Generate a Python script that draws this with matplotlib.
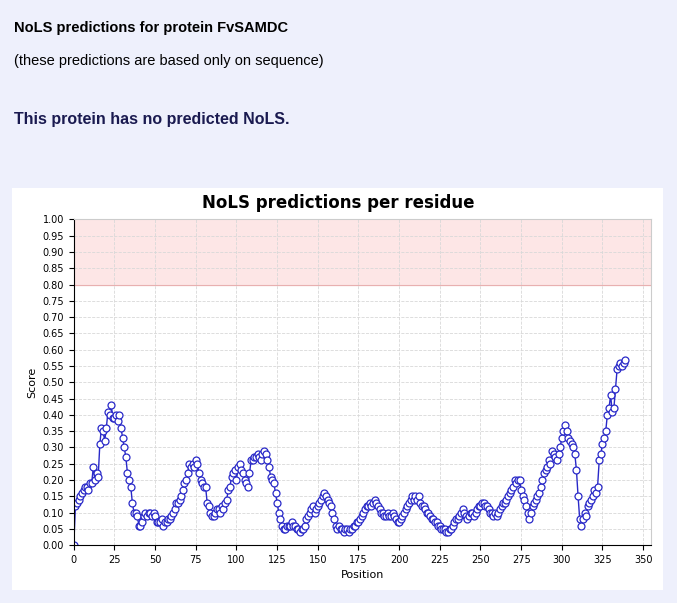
import matplotlib.pyplot as plt
from matplotlib.ticker import MultipleLocator

# score per residue
scores = [
    0.00, 0.12, 0.13, 0.14, 0.15, 0.16, 0.17, 0.18, 0.18, 0.17,
    0.19, 0.19, 0.24, 0.20, 0.22, 0.21, 0.31, 0.36, 0.35, 0.32,
    0.36, 0.41, 0.40, 0.43, 0.39, 0.39, 0.40, 0.38, 0.40, 0.36,
    0.33, 0.30, 0.27, 0.22, 0.20, 0.18, 0.13, 0.10, 0.10, 0.09,
    0.06, 0.06, 0.07, 0.09, 0.10, 0.09, 0.10, 0.10, 0.09, 0.10,
    0.09, 0.07, 0.07, 0.07, 0.08, 0.06, 0.07, 0.07, 0.08, 0.08,
    0.09, 0.10, 0.11, 0.13, 0.13, 0.14, 0.15, 0.17, 0.19, 0.20,
    0.22, 0.25, 0.24, 0.25, 0.24, 0.26, 0.25, 0.22, 0.20, 0.19,
    0.18, 0.18, 0.13, 0.12, 0.10, 0.09, 0.09, 0.10, 0.11, 0.11,
    0.10, 0.12, 0.11, 0.13, 0.14, 0.17, 0.18, 0.21, 0.22, 0.23,
    0.20, 0.24, 0.25, 0.23, 0.22, 0.20, 0.19, 0.18, 0.22, 0.26,
    0.26, 0.27, 0.27, 0.28, 0.27, 0.26, 0.28, 0.29,
    # 118-
    0.28, 0.26, 0.24, 0.21, 0.20, 0.19, 0.16, 0.13, 0.10, 0.08, 0.06, 0.05,
    0.05, 0.06, 0.06, 0.06, 0.07, 0.06, 0.06, 0.05, 0.05, 0.04, 0.05, 0.05,
    0.06, 0.08, 0.09, 0.10, 0.11, 0.12, 0.10, 0.11, 0.12, 0.13, 0.14, 0.15, 0.16,
    0.15, 0.14, 0.13, 0.12, 0.10, 0.08, 0.06,
    0.05, 0.06, 0.05, 0.05, 0.04, 0.05, 0.05, 0.04, 0.05, 0.05, 0.06,
    0.06, 0.07, 0.07, 0.08, 0.09, 0.10, 0.11, 0.12, 0.12, 0.13, 0.12, 0.13, 0.14,
    0.13, 0.12, 0.11, 0.10, 0.10, 0.09, 0.09, 0.10, 0.09, 0.09, 0.10, 0.09, 0.08, 0.07,
    0.07, 0.08, 0.09, 0.10, 0.11, 0.12, 0.13, 0.14, 0.15, 0.14, 0.15, 0.14, 0.15,
    0.13, 0.12, 0.12, 0.11, 0.10, 0.10, 0.09, 0.08, 0.08, 0.07, 0.07, 0.06, 0.06,
    0.05, 0.05, 0.05, 0.04, 0.04, 0.05, 0.05, 0.06,
    0.07, 0.08, 0.08, 0.09, 0.10, 0.11, 0.10, 0.09, 0.08, 0.09, 0.10, 0.10, 0.09,
    0.10, 0.11, 0.12, 0.12, 0.13, 0.13, 0.12,
    0.12, 0.11, 0.10, 0.10, 0.09, 0.10, 0.09, 0.10, 0.11, 0.12, 0.13, 0.13,
    0.14, 0.15, 0.16, 0.17, 0.18, 0.20, 0.19, 0.20, 0.20, 0.17, 0.15,
    0.14, 0.12, 0.10, 0.08, 0.10, 0.12, 0.13,
    0.14, 0.15, 0.16, 0.18, 0.20, 0.22, 0.23, 0.24, 0.26, 0.25, 0.29, 0.28, 0.27,
    0.26, 0.28, 0.30, 0.33, 0.35, 0.37, 0.35,
    0.33, 0.32, 0.31, 0.30, 0.28, 0.23, 0.15, 0.08, 0.06, 0.08, 0.10, 0.09,
    0.12, 0.13, 0.14, 0.15, 0.17, 0.16, 0.18, 0.26, 0.28, 0.31, 0.33, 0.35,
    0.40, 0.42, 0.46, 0.41, 0.42, 0.48, 0.54, 0.55, 0.56, 0.55, 0.56, 0.57,
]
positions = list(range(len(scores)))

fig = plt.figure(figsize=(6.77, 6.03), dpi=100)
fig.patch.set_facecolor('#eef0fc')
fig.text(0.02, 0.947, "NoLS predictions for protein FvSAMDC", fontsize=10.5, fontweight='bold', family='Liberation Sans')
fig.text(0.02, 0.893, "(these predictions are based only on sequence)", fontsize=10.5, family='Liberation Sans')
fig.text(0.02, 0.795, "This protein has no predicted NoLS.", fontsize=11.5, fontweight='bold',
         color='#1a1a50', family='Liberation Sans')

# white chart panel
panel = fig.add_axes([0.018, 0.022, 0.962, 0.667])
panel.set_facecolor('white')
panel.set_xticks([]); panel.set_yticks([])
for s in panel.spines.values():
    s.set_visible(False)
fig.text(0.5, 0.655, "NoLS predictions per residue", ha='center', fontsize=12, fontweight='bold', family='DejaVu Sans')

ax = fig.add_axes([0.109, 0.096, 0.853, 0.54])
ax.axhspan(0.8, 1.0, color='#fde6e6', zorder=0)
ax.axhline(0.8, color='#e8b0b0', lw=0.8)
ax.plot(positions, scores, color='#2929c8', lw=1, marker='o', ms=5,
        mfc='white', mec='#2929c8', mew=0.9)
ax.set_xlim(0, 355)
ax.set_ylim(0, 1.0)
ax.xaxis.set_major_locator(MultipleLocator(25))
ax.yaxis.set_major_locator(MultipleLocator(0.05))
ax.yaxis.set_major_formatter(lambda v, p: f"{v:.2f}")
ax.tick_params(labelsize=7)
ax.grid(True, color='#d8d8d8', ls='--', lw=0.6)
ax.set_xlabel("Position", fontsize=8)
ax.set_ylabel("Score", fontsize=8)
for s in ['top', 'right']:
    ax.spines[s].set_color('#cccccc')

fig.savefig('out.png')
